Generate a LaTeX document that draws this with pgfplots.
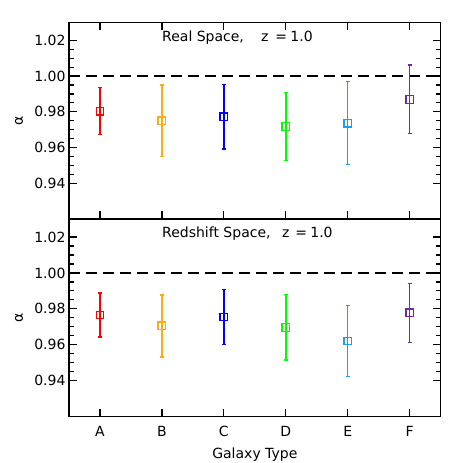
\documentclass[border=0pt]{standalone}
\usepackage{pgfplots}
\pgfplotsset{compat=1.18}
\usepackage{fontspec}
\setmainfont{DejaVu Sans}

\definecolor{cA}{RGB}{255,0,0}
\definecolor{cB}{RGB}{255,172,20}
\definecolor{cC}{RGB}{0,0,255}
\definecolor{cD}{RGB}{0,255,0}
\definecolor{cE}{RGB}{20,160,255}
\definecolor{cF}{RGB}{110,40,170}

\newcommand{\lbl}{\fontsize{14}{16}\selectfont}
\tikzset{ttl/.style={anchor=base west, inner sep=0pt, font=\lbl}}

\pgfplotsset{
  panel/.style={
    scale only axis,
    width=371.7pt,
    xmin=0.5, xmax=6.5,
    ymin=0.92, ymax=1.03,
    xtick={1,2,3,4,5,6},
    ytick={0.94,0.96,0.98,1.00,1.02},
    minor y tick num=3,
    tick align=inside,
    axis line style={line width=1.2pt},
    major tick style={line width=1.2pt, black},
    minor tick style={line width=1.2pt, black},
    major tick length=8pt,
    minor tick length=4.5pt,
    tick label style={font=\lbl},
    label style={font=\lbl},
    /pgf/number format/assume math mode=true,
    yticklabel style={/pgf/number format/.cd, fixed, fixed zerofill, precision=2},
    ylabel={α},
    every axis y label/.style={at={(axis description cs:-0.1345,0.5)}, rotate=90, anchor=center, font=\lbl},
    clip=false,
  },
  pt/.style={color=#1, only marks, mark=square, mark size=3.8pt,
    mark options={solid, draw=#1, fill=white, line width=1.3pt},
    error bars/y dir=both,
    error bars/y explicit,
    error bars/error bar style={color=#1, line width=1.4pt},
    error bars/error mark options={rotate=90, mark size=2pt, line width=1.4pt, color=#1}},
}

\begin{document}
\begin{tikzpicture}
\useasboundingbox (0,0) rectangle (463pt,463pt);

% real space
\begin{axis}[panel, at={(69pt,244pt)}, anchor=south west, height=196.5pt,
  xticklabels={}, xtick pos=both, ytick pos=both]
\addplot[black, line width=1.2pt, dash pattern=on 11pt off 6pt] coordinates {(0.5,1.0) (6.5,1.0)};
\addplot[pt=cA] coordinates {(1,0.9804) +- (0,0.0132)};
\addplot[pt=cB] coordinates {(2,0.9750) +- (0,0.0201)};
\addplot[pt=cC] coordinates {(3,0.9772) +- (0,0.0181)};
\addplot[pt=cD] coordinates {(4,0.9718) +- (0,0.0190)};
\addplot[pt=cE] coordinates {(5,0.9737) +- (0,0.0232)};
\addplot[pt=cF] coordinates {(6,0.9869) +- (0,0.0192)};
\node[ttl] at (rel axis cs:0.2502,0.902) {Real Space,};
\node[ttl] at (rel axis cs:0.5165,0.902) {z};
\node[ttl] at (rel axis cs:0.5545,0.902) {=};
\node[ttl] at (rel axis cs:0.5951,0.902) {1.0};
\end{axis}

% redshift space
\begin{axis}[panel, at={(69pt,46.3pt)}, anchor=south west, height=197.7pt,
  xticklabels={A,B,C,D,E,F}, xtick pos=bottom, ytick pos=both,
  xticklabel style={yshift=-6pt},
  xlabel={Galaxy Type}, xlabel style={yshift=-4pt}]
\addplot[black, line width=1.2pt, dash pattern=on 11pt off 6pt] coordinates {(0.5,1.0) (6.5,1.0)};
\addplot[pt=cA] coordinates {(1,0.9766) +- (0,0.0123)};
\addplot[pt=cB] coordinates {(2,0.9705) +- (0,0.0173)};
\addplot[pt=cC] coordinates {(3,0.9755) +- (0,0.0154)};
\addplot[pt=cD] coordinates {(4,0.9697) +- (0,0.0182)};
\addplot[pt=cE] coordinates {(5,0.9621) +- (0,0.0198)};
\addplot[pt=cF] coordinates {(6,0.9778) +- (0,0.0164)};
\node[ttl] at (rel axis cs:0.2502,0.906) {Redshift Space,};
\node[ttl] at (rel axis cs:0.5730,0.906) {z};
\node[ttl] at (rel axis cs:0.6083,0.906) {=};
\node[ttl] at (rel axis cs:0.6489,0.906) {1.0};
\end{axis}
\end{tikzpicture}
\end{document}
